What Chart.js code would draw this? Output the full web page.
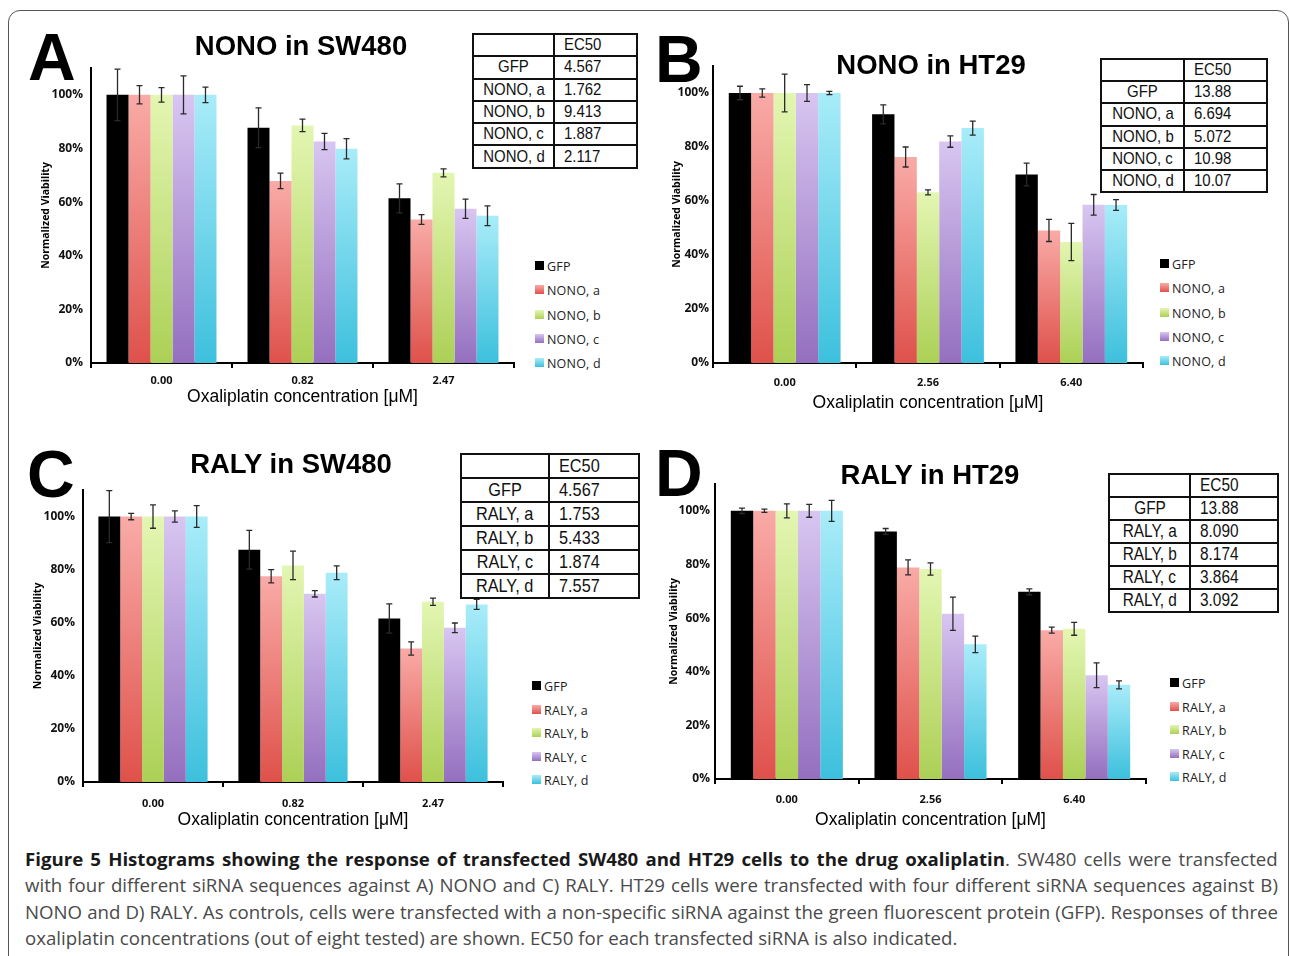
<!DOCTYPE html>
<html>
<head>
<meta charset="utf-8">
<script src="https://cdn.jsdelivr.net/npm/chart.js@4.4.1/dist/chart.umd.min.js"></script>
<style>
  body { margin: 0; width: 1290px; height: 956px; background: #fff; position: relative; overflow: hidden; font-family: "Liberation Sans", Arial, sans-serif; }
  .frame { position: absolute; left: 8px; top: 10px; width: 1279px; height: 980px; border: 1px solid #555; border-radius: 12px; }
  canvas { position: absolute; }
  .letter { position: absolute; font: bold 66px/1 "Liberation Sans", Arial, sans-serif; color: #000; }
  .title { position: absolute; font: bold 27.5px/1 "Liberation Sans", Arial, sans-serif; color: #000; transform: translate(-50%, -50%); white-space: nowrap; }
  table.ec50 { position: absolute; border-collapse: collapse; table-layout: fixed; background: #fff; }
  table.ec50 td { border: 2px solid #111; padding: 0; white-space: nowrap; overflow: visible; color: #111; font-family: "Liberation Sans", Arial, sans-serif; }
  table.ec50 td.name { text-align: center; }
  table.ec50 td.val { text-align: left; padding-left: 9px; }
  table.ec50 span { display: inline-block; transform: scaleX(0.88); }
  table.ec50 td.name span { transform-origin: center; }
  table.ec50 td.val span { transform-origin: left; }
  .legend-item { position: absolute; font: 12.5px "Open Sans", sans-serif; color: #222; white-space: nowrap; letter-spacing: 0.2px; }
  .legend-item i { position: absolute; left: 0; top: 50%; width: 9px; height: 9px; margin-top: -5px; }
  .legend-item span { position: absolute; left: 12px; top: 50%; transform: translateY(-50%); }
  .caption { position: absolute; left: 25px; top: 846px; font: 18.5px/26.4px "Open Sans", sans-serif; color: #4a4a4a; transform-origin: left top; }
  .caption div { white-space: nowrap; }
  .caption b { color: #1a1a1a; }
</style>
</head>
<body>
<div class="frame"></div>

<script>
// Concentrations (catégories de l'axe X)
const concSW480 = ['0.00', '0.82', '2.47'];
const concHT29 = ['0.00', '2.56', '6.40'];

// Noms des séries
const nonoLabels = ['GFP', 'NONO, a', 'NONO, b', 'NONO, c', 'NONO, d'];
const ralyLabels = ['GFP', 'RALY, a', 'RALY, b', 'RALY, c', 'RALY, d'];

// Graduations de l'axe Y (%)
const yTickValues = [0, 20, 40, 60, 80, 100];

// A) NONO in SW480
const nonoSW480Values = [
    [100, 87.7, 61.4],
    [100, 67.9, 53.5],
    [100, 88.6, 70.9],
    [100, 82.6, 57.5],
    [100, 79.9, 54.9]
];
const nonoSW480Errors = [
    [9.6, 7.4, 5.4],
    [3.4, 2.9, 1.8],
    [2.7, 2.3, 1.5],
    [7.1, 3.0, 3.6],
    [2.9, 3.8, 3.7]
];
const nonoSW480EC50 = ['4.567', '1.762', '9.413', '1.887', '2.117'];

// B) NONO in HT29
const nonoHT29Values = [
    [100, 92.1, 69.8],
    [100, 76.3, 49.1],
    [100, 63.2, 44.8],
    [100, 82.0, 58.6],
    [100, 87.0, 58.5]
];
const nonoHT29Errors = [
    [2.5, 3.5, 4.2],
    [1.5, 3.7, 4.1],
    [7.0, 0.9, 6.9],
    [3.1, 2.1, 3.8],
    [0.6, 2.6, 2.0]
];
const nonoHT29EC50 = ['13.88', '6.694', '5.072', '10.98', '10.07'];

// C) RALY in SW480
const ralySW480Values = [
    [100, 87.5, 61.6],
    [100, 77.5, 50.3],
    [100, 81.6, 67.9],
    [100, 70.9, 58.1],
    [100, 78.8, 66.9]
];
const ralySW480Errors = [
    [9.8, 7.3, 5.5],
    [1.2, 2.5, 2.5],
    [4.4, 5.4, 1.4],
    [2.1, 1.2, 1.8],
    [4.1, 2.6, 1.9]
];
const ralySW480EC50 = ['4.567', '1.753', '5.433', '1.874', '7.557'];

// D) RALY in HT29
const ralyHT29Values = [
    [100, 92.3, 69.8],
    [100, 78.9, 55.5],
    [100, 78.3, 56.0],
    [100, 61.6, 38.7],
    [100, 50.2, 35.1]
];
const ralyHT29Errors = [
    [1.0, 1.1, 1.1],
    [0.6, 2.8, 1.1],
    [2.6, 2.3, 2.4],
    [2.4, 6.2, 4.6],
    [3.9, 3.1, 1.5]
];
const ralyHT29EC50 = ['13.88', '8.090', '8.174', '3.864', '3.092'];

// Couleurs des séries (haut / bas du dégradé)
const seriesColors = [
    ['#000000', '#000000'],
    ['#f9aba7', '#df514b'],
    ['#e3f6b2', '#acd056'],
    ['#d8c6f1', '#946fbf'],
    ['#a9ecf9', '#3dc0dd']
];

// Mise en page de chaque panneau
const panels = [
    { id: 'A', title: 'NONO in SW480', cats: concSW480, names: nonoLabels, values: nonoSW480Values, errors: nonoSW480Errors, ec50: nonoSW480EC50,
      L: 91, R: 514, T: 68, B: 363, yTitleX: 46, tickRight: 83, labelY: 381, titleY: 397,
      letter: { x: 28, base: 80 }, head: { x: 301, y: 46 },
      table: { left: 472, top: 33, w1: 81, w2: 83, rowH: 22.3, font: 17 },
      legend: { x: 535, y: 266, step: 24.25 } },
    { id: 'B', title: 'NONO in HT29', cats: concHT29, names: nonoLabels, values: nonoHT29Values, errors: nonoHT29Errors, ec50: nonoHT29EC50,
      L: 713, R: 1143, T: 66, B: 363, yTitleX: 677, tickRight: 709, labelY: 383, titleY: 403,
      letter: { x: 655, base: 82 }, head: { x: 931, y: 65 },
      table: { left: 1100, top: 58, w1: 83, w2: 83, rowH: 22.2, font: 17 },
      legend: { x: 1160, y: 264, step: 24.25 } },
    { id: 'C', title: 'RALY in SW480', cats: concSW480, names: ralyLabels, values: ralySW480Values, errors: ralySW480Errors, ec50: ralySW480EC50,
      L: 83, R: 503, T: 490, B: 782, yTitleX: 38, tickRight: 75, labelY: 804, titleY: 820,
      letter: { x: 27, base: 497 }, head: { x: 291, y: 464 },
      table: { left: 460, top: 453, w1: 88, w2: 90, rowH: 24, font: 18.5 },
      legend: { x: 532, y: 686, step: 23.5 } },
    { id: 'D', title: 'RALY in HT29', cats: concHT29, names: ralyLabels, values: ralyHT29Values, errors: ralyHT29Errors, ec50: ralyHT29EC50,
      L: 715, R: 1146, T: 484, B: 779, yTitleX: 674, tickRight: 710, labelY: 800, titleY: 820,
      letter: { x: 655, base: 496 }, head: { x: 930, y: 475 },
      table: { left: 1108, top: 473, w1: 81, w2: 88, rowH: 23, font: 17.5 },
      legend: { x: 1170, y: 683, step: 23.5 } }
];

// Plugin pour dessiner les barres d'erreur
const errorBarPlugin = {
    id: 'errorBars',
    afterDatasetsDraw(chart) {
        const ctx = chart.ctx;
        const yScale = chart.scales.y;
        ctx.save();
        ctx.strokeStyle = '#2a2a2a';
        ctx.lineWidth = 1.3;
        chart.data.datasets.forEach((ds, i) => {
            const meta = chart.getDatasetMeta(i);
            meta.data.forEach((bar, j) => {
                const v = ds.data[j];
                const e = ds.errors[j];
                const yTop = yScale.getPixelForValue(v + e);
                const yBot = yScale.getPixelForValue(v - e);
                ctx.beginPath();
                ctx.moveTo(bar.x, yTop);
                ctx.lineTo(bar.x, yBot);
                ctx.moveTo(bar.x - 3, yTop);
                ctx.lineTo(bar.x + 3, yTop);
                ctx.moveTo(bar.x - 3, yBot);
                ctx.lineTo(bar.x + 3, yBot);
                ctx.stroke();
            });
        });
        ctx.restore();
    }
};

// Dégradé vertical par barre
function barGradient(colors) {
    return (c) => {
        const chart = c.chart;
        const yScale = chart.scales.y;
        if (!chart.chartArea || !yScale || c.raw === undefined) return colors[1];
        const top = yScale.getPixelForValue(c.raw);
        const base = yScale.getPixelForValue(0);
        const g = chart.ctx.createLinearGradient(0, top, 0, base);
        g.addColorStop(0, colors[0]);
        g.addColorStop(1, colors[1]);
        return g;
    };
}

function buildPanel(p) {
    const padTop = 20;
    const padRight = 4;
    const left = Math.round(p.yTitleX - 6.3);
    const top = p.T - padTop;
    const width = p.R - left + padRight;
    const bottom = Math.round(p.titleY + 12.5);
    const height = bottom - top;

    const canvas = document.createElement('canvas');
    canvas.width = width;
    canvas.height = height;
    canvas.style.left = left + 'px';
    canvas.style.top = top + 'px';
    canvas.style.width = width + 'px';
    canvas.style.height = height + 'px';
    document.body.appendChild(canvas);

    const yWidth = p.L - left;
    const xHeight = bottom - p.B;

    new Chart(canvas.getContext('2d'), {
        type: 'bar',
        data: {
            labels: p.cats,
            datasets: p.names.map((name, i) => ({
                label: name,
                data: p.values[i],
                errors: p.errors[i],
                backgroundColor: barGradient(seriesColors[i]),
                borderWidth: 0,
                categoryPercentage: 0.78,
                barPercentage: 1.0
            }))
        },
        options: {
            responsive: false,
            animation: false,
            devicePixelRatio: 1,
            layout: { padding: { top: padTop, right: padRight, left: 0, bottom: 0 } },
            plugins: { legend: { display: false }, tooltip: { enabled: false } },
            scales: {
                x: {
                    grid: { display: true, drawOnChartArea: false, drawTicks: true, tickLength: 5, color: '#000', lineWidth: 2 },
                    border: { display: true, color: '#000', width: 2 },
                    ticks: { color: '#111', padding: p.labelY - p.B - 5 - 6.6, font: { family: 'Open Sans', weight: 'bold', size: 11 } },
                    title: { display: true, text: 'Oxaliplatin concentration [\u03bcM]', color: '#000', padding: { top: 0, bottom: 2 },
                             font: { family: 'Liberation Sans', size: 17.5 } },
                    afterFit: (scale) => { scale.height = xHeight; }
                },
                y: {
                    min: 0,
                    max: 110,
                    grid: { display: false, drawTicks: false },
                    border: { display: true, color: '#000', width: 2 },
                    ticks: { stepSize: 20, color: '#111', padding: p.L - p.tickRight,
                             font: { family: 'Open Sans', weight: 'bold', size: 12 },
                             callback: (v) => v + '%' },
                    afterBuildTicks: (axis) => { axis.ticks = yTickValues.map(v => ({ value: v })); },
                    title: { display: true, text: 'Normalized Viability', color: '#000', padding: { top: 0, bottom: 0 },
                             font: { family: 'Open Sans', weight: 'bold', size: 10.5 } },
                    afterFit: (scale) => { scale.width = yWidth; }
                }
            }
        },
        plugins: [errorBarPlugin]
    });

    // Lettre du panneau
    const letter = document.createElement('div');
    letter.className = 'letter';
    letter.textContent = p.id;
    letter.style.left = p.letter.x + 'px';
    letter.style.top = (p.letter.base - 0.8465 * 66) + 'px';
    document.body.appendChild(letter);

    // Titre
    const head = document.createElement('div');
    head.className = 'title';
    head.textContent = p.title;
    head.style.left = p.head.x + 'px';
    head.style.top = p.head.y + 'px';
    document.body.appendChild(head);

    // Tableau EC50
    const t = p.table;
    const table = document.createElement('table');
    table.className = 'ec50';
    table.style.left = t.left + 'px';
    table.style.top = t.top + 'px';
    table.style.width = (t.w1 + t.w2) + 'px';
    table.style.fontSize = t.font + 'px';
    let html = `<colgroup><col style="width:${t.w1}px"><col style="width:${t.w2}px"></colgroup>`;
    html += `<tr style="height:${t.rowH}px"><td class="name"></td><td class="val"><span>EC50</span></td></tr>`;
    p.names.forEach((name, i) => {
        html += `<tr style="height:${t.rowH}px"><td class="name"><span>${name}</span></td><td class="val"><span>${p.ec50[i]}</span></td></tr>`;
    });
    table.innerHTML = html;
    document.body.appendChild(table);

    // Légende
    p.names.forEach((name, i) => {
        const item = document.createElement('div');
        item.className = 'legend-item';
        item.style.left = p.legend.x + 'px';
        item.style.top = (p.legend.y + i * p.legend.step) + 'px';
        const c = seriesColors[i];
        item.innerHTML = `<i style="background:linear-gradient(${c[0]}, ${c[1]})"></i><span>${name}</span>`;
        document.body.appendChild(item);
    });
}

panels.forEach(buildPanel);
</script>

<div class="caption" id="caption">
  <div><b>Figure 5 Histograms showing the response of transfected SW480 and HT29 cells to the drug oxaliplatin</b>. SW480 cells were transfected</div>
  <div>with four different siRNA sequences against A) NONO and C) RALY. HT29 cells were transfected with four different siRNA sequences against B)</div>
  <div>NONO and D) RALY. As controls, cells were transfected with a non-specific siRNA against the green fluorescent protein (GFP). Responses of three</div>
  <div>oxaliplatin concentrations (out of eight tested) are shown. EC50 for each transfected siRNA is also indicated.</div>
</div>

<script>
// Justifier les lignes de la légende de figure (police condensée par mise à l'échelle)
(function () {
    const caption = document.getElementById('caption');
    const lines = Array.from(caption.querySelectorAll('div'));
    // offsetWidth ignore la transformation CSS
    const measure = (el) => {
        el.style.display = 'inline-block';
        const w = el.offsetWidth;
        el.style.display = 'block';
        return w;
    };
    const target = 1253;          // largeur des lignes justifiées
    const lastTarget = 932;       // largeur de la dernière ligne
    const widths = lines.map(measure);
    const s = lastTarget / widths[widths.length - 1];
    caption.style.transform = `scaleX(${s})`;
    caption.style.width = (target / s) + 'px';
    lines.forEach((line, i) => {
        if (i === lines.length - 1) return;
        const spaces = (line.textContent.match(/ /g) || []).length;
        line.style.wordSpacing = ((target / s - widths[i]) / spaces) + 'px';
    });
})();
</script>
</body>
</html>
